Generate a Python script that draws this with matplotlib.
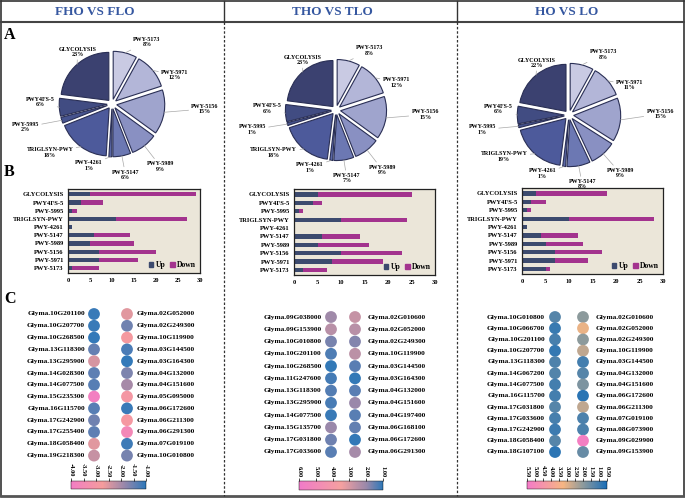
import matplotlib
matplotlib.use('Agg')
import matplotlib.pyplot as plt
import numpy as np
from matplotlib.colors import LinearSegmentedColormap, Normalize
from matplotlib.lines import Line2D
from matplotlib.patches import Patch
import matplotlib.cm as cm

plt.rcParams['font.family'] = ['Liberation Serif', 'DejaVu Serif']
plt.rcParams['font.weight'] = 'bold'

# ---------------- data ----------------
titles = ["FHO VS FLO", "THO VS TLO", "HO VS LO"]

pie_labels = ["PWY-5173", "PWY-5971", "PWY-5156", "PWY-5989", "PWY-5147",
              "PWY-4261", "TRIGLSYN-PWY", "PWY-5995", "PWY4FS-5", "GLYCOLYSIS"]
pie_fho = [8, 12, 15, 9, 6, 1, 18, 2, 6, 23]
pie_tho = [8, 12, 15, 9, 7, 1, 18, 1, 6, 23]
pie_ho = [8, 11, 15, 9, 8, 1, 19, 1, 6, 22]

bar_categories = ["GLYCOLYSIS", "PWY4FS-5", "PWY-5995", "TRIGLSYN-PWY", "PWY-4261",
                  "PWY-5147", "PWY-5989", "PWY-5156", "PWY-5971", "PWY-5173"]
up_fho = [5, 3, 1, 11, 1, 6, 5, 7, 7, 1]
down_fho = [24, 5, 1, 16, 0, 8, 10, 13, 9, 6]
up_tho = [5, 4, 1, 10, 0, 6, 5, 10, 8, 2]
down_tho = [20, 2, 1, 14, 0, 8, 11, 13, 11, 5]
up_ho = [3, 2, 1, 10, 1, 4, 5, 7, 7, 5]
down_ho = [15, 3, 1, 18, 0, 8, 8, 10, 7, 1]
bar_ticks = [0, 5, 10, 15, 20, 25, 30]

fho_genes_left = ["Glyma.10G201100", "Glyma.10G207700", "Glyma.10G268500", "Glyma.13G118300",
                  "Glyma.13G295900", "Glyma.14G028300", "Glyma.14G077500", "Glyma.15G235300",
                  "Glyma.16G115700", "Glyma.17G242900", "Glyma.17G255400", "Glyma.18G058400",
                  "Glyma.19G218300"]
fho_vals_left = [-1.1, -1.1, -1.05, -1.45, -2.45, -1.4, -1.35, -3.9, -1.35, -1.55, -1.4, -2.55, -2.3]
fho_genes_right = ["Glyma.02G052000", "Glyma.02G249300", "Glyma.10G119900", "Glyma.03G144500",
                   "Glyma.03G164300", "Glyma.04G132000", "Glyma.04G151600", "Glyma.05G095000",
                   "Glyma.06G172600", "Glyma.06G211300", "Glyma.06G291300", "Glyma.07G019100",
                   "Glyma.10G010800"]
fho_vals_right = [-2.55, -1.55, -2.85, -1.25, -1.05, -1.65, -2.0, -2.95, -1.1, -2.9, -3.6, -1.15, -1.6]

tho_genes_left = ["Glyma.09G038000", "Glyma.09G153900", "Glyma.10G010800", "Glyma.10G201100",
                  "Glyma.10G268500", "Glyma.11G247600", "Glyma.13G118300", "Glyma.13G295900",
                  "Glyma.14G077500", "Glyma.15G135700", "Glyma.17G031800", "Glyma.17G033600"]
tho_vals_left = [2.1, 2.5, 1.7, 1.3, 1.05, 1.2, 1.35, 1.25, 1.1, 2.0, 1.6, 1.4]
tho_genes_right = ["Glyma.02G010600", "Glyma.02G052000", "Glyma.02G249300", "Glyma.10G119900",
                   "Glyma.03G144500", "Glyma.03G164300", "Glyma.04G132000", "Glyma.04G151600",
                   "Glyma.04G197400", "Glyma.06G168100", "Glyma.06G172600", "Glyma.06G291300"]
tho_vals_right = [2.7, 2.5, 1.8, 2.55, 1.4, 1.05, 1.4, 2.0, 1.4, 1.5, 1.05, 2.2]

ho_genes_left = ["Glyma.10G010800", "Glyma.10G066700", "Glyma.10G201100", "Glyma.10G207700",
                 "Glyma.13G118300", "Glyma.14G067200", "Glyma.14G077500", "Glyma.16G115700",
                 "Glyma.17G031800", "Glyma.17G033600", "Glyma.17G242900", "Glyma.18G058400",
                 "Glyma.18G107100"]
ho_vals_left = [1.3, 0.9, 1.1, 0.85, 1.2, 1.25, 1.05, 1.05, 1.3, 1.1, 0.95, 1.3, 0.75]
ho_genes_right = ["Glyma.02G010600", "Glyma.02G052000", "Glyma.02G249300", "Glyma.10G119900",
                  "Glyma.03G144500", "Glyma.04G132000", "Glyma.04G151600", "Glyma.06G172600",
                  "Glyma.06G211300", "Glyma.07G019100", "Glyma.08G073900", "Glyma.09G029900",
                  "Glyma.09G153900"]
ho_vals_right = [2.0, 3.1, 2.0, 2.6, 1.05, 1.3, 1.8, 0.7, 2.6, 1.15, 1.15, 5.3, 1.5]

cb_ticks_fho = [-4.0, -3.5, -3.0, -2.5, -2.0, -1.5, -1.0]
cb_ticks_tho = [6.0, 5.0, 4.0, 3.0, 2.0, 1.0]
cb_ticks_ho = [5.5, 5.0, 4.5, 4.0, 3.5, 3.0, 2.5, 2.0, 1.5, 1.0, 0.5]

# ---------------- styles ----------------
W, H = 685, 499
pie_colors = ['#c9cae3', '#b3b6d8', '#9fa4cd', '#8990c2', '#6c78b3',
              '#5a67a6', '#4d5a9b', '#46538e', '#414c82', '#3b4170']
up_color = '#3c4a6e'
down_color = '#a3338e'
title_color = '#3557a0'

cmap_fho = LinearSegmentedColormap.from_list('c1', [(0, '#f27ec4'), (0.42, '#f59c9c'),
                                                    (0.7, '#9c88aa'), (1, '#2d78ba')])
cmap_tho = LinearSegmentedColormap.from_list('c2', [(0, '#2f78b8'), (0.2, '#9a88aa'),
                                                    (0.5, '#f5a0a0'), (1, '#f07ac8')])
cmap_ho = LinearSegmentedColormap.from_list('c3', [(0, '#1a6eb8'), (0.3, '#8d9a9c'),
                                                   (0.55, '#f6b683'), (1, '#f47ac8')])

label_nudge = [-15, -15, 6, 0, 0, -19, -16, -3, -5, -8]
label_dist = [1.48, 1.44, 1.94, 1.65, 1.5, 1.37, 1.64, 1.87, 1.5, 1.3]

fig = plt.figure(figsize=(W / 100, H / 100), dpi=100)


def px_axes(x0, y0, x1, y1):
    return fig.add_axes([x0 / W, 1 - y1 / H, (x1 - x0) / W, (y1 - y0) / H])


def fig_line(x0, y0, x1, y1, **kw):
    fig.add_artist(Line2D([x0 / W, x1 / W], [1 - y0 / H, 1 - y1 / H],
                          transform=fig.transFigure, **kw))


def fig_text(x, y, s, **kw):
    fig.text(x / W, 1 - y / H, s, **kw)


# frame and header
fig_line(1, 1, 684, 1, color='#333333', lw=1.2)
fig_line(1, 1, 1, 496, color='#333333', lw=1.2)
fig_line(684, 1, 684, 496, color='#333333', lw=1.2)
fig_line(1, 496, 684, 496, color='#555555', lw=2.0)
fig_line(1, 22, 684, 22, color='#444444', lw=1.5)
for xd in (224, 457):
    fig_line(xd, 1, xd, 22, color='#333333', lw=1.0)
    fig_line(xd, 22, xd, 496, color='#333333', lw=0.9, ls=(0, (2, 1.5)))

title_x = [95, 332, 567]
for t, xx in zip(titles, title_x):
    fig_text(xx, 12, t, ha='center', va='center', fontsize=9.5, color=title_color,
             fontweight='bold')

for lab, yy in zip(["A", "B", "C"], [35, 172, 299]):
    fig_text(4, yy, lab, ha='left', va='center', fontsize=11.5, fontweight='bold')

# ---------------- pies ----------------
pie_data = [pie_fho, pie_tho, pie_ho]
pie_centers = [(112, 104, 48), (336, 110, 46), (569, 115, 47)]
L = 2.1
for vals, (cx, cy, sc) in zip(pie_data, pie_centers):
    half = L * sc
    ax = px_axes(cx - half, cy - half, cx + half, cy + half)
    wedges, _ = ax.pie(vals, explode=[0.1] * len(vals), startangle=90, counterclock=False,
                       colors=pie_colors,
                       wedgeprops=dict(edgecolor='#2a2f55', linewidth=0.8))
    ax.set_xlim(-L, L)
    ax.set_ylim(-L, L)
    ax.set_aspect('equal')
    ax.axis('off')
    for w, lab, v, nd, dd in zip(wedges, pie_labels, vals, label_nudge, label_dist):
        mid = np.deg2rad((w.theta1 + w.theta2) / 2)
        tang = mid + np.deg2rad(nd)
        ex, ey = 1.1 * np.cos(mid), 1.1 * np.sin(mid)
        tx, ty = dd * np.cos(tang), dd * np.sin(tang)
        ax.annotate(f"{lab}\n{v}%", xy=(ex, ey), xytext=(tx, ty), ha='center', va='center',
                    fontsize=4.3, fontweight='bold', linespacing=1.1,
                    arrowprops=dict(arrowstyle='-', color='#a8a8a8', lw=0.5,
                                    shrinkA=0, shrinkB=0),
                    annotation_clip=False)

# ---------------- bars ----------------
bar_data = [(up_fho, down_fho), (up_tho, down_tho), (up_ho, down_ho)]
bar_boxes = [(68, 189, 200, 273), (294, 189, 435, 275), (522, 188, 663, 274)]
for (up, down), box in zip(bar_data, bar_boxes):
    ax = px_axes(*box)
    y = np.arange(len(bar_categories))
    ax.barh(y, up, height=0.5, color=up_color, label='Up')
    ax.barh(y, down, left=up, height=0.5, color=down_color, label='Down')
    ax.set_ylim(len(bar_categories) - 0.4, -0.65)
    ax.set_xlim(0, 30)
    ax.set_facecolor('#ebe6d9')
    ax.set_yticks(y)
    ax.set_yticklabels(bar_categories, fontsize=4.7, fontweight='bold')
    ax.set_xticks(bar_ticks)
    ax.set_xticklabels([str(t) for t in bar_ticks], fontsize=4.7, fontweight='bold')
    ax.tick_params(length=0, pad=3.5)
    ax.tick_params(axis='y', pad=3)
    for s in ax.spines.values():
        s.set_linewidth(0.9)
        s.set_color('#222222')
    handles = [Patch(color=up_color), Patch(color=down_color)]
    ax.legend(handles, ['Up', 'Down'], loc='lower right', ncol=2, frameon=False,
              handlelength=0.6, handleheight=0.6, handletextpad=0.3,
              columnspacing=0.6, borderaxespad=0.15, prop=dict(weight='bold', size=5.5))

# ---------------- dots ----------------
dot_sets = [
    (fho_genes_left, fho_vals_left, fho_genes_right, fho_vals_right, cmap_fho, -4.0, -1.0,
     cb_ticks_fho),
    (tho_genes_left, tho_vals_left, tho_genes_right, tho_vals_right, cmap_tho, 1.0, 6.0,
     cb_ticks_tho),
    (ho_genes_left, ho_vals_left, ho_genes_right, ho_vals_right, cmap_ho, 0.5, 5.5,
     cb_ticks_ho),
]
dot_layout = [(94, 127, 314, 11.8, 6.5, 7.2), (331, 355, 317, 12.27, 6.8, 9.2),
              (555, 583, 317, 11.25, 7.2, 9.4)]
cb_boxes = [(71, 481, 146, 489), (299, 481, 383, 490), (527, 481, 607, 489)]
inverted = [False, True, True]

for (gl, vl, gr, vr, cmap, vmin, vmax, cticks), (xl, xr, y0, sp, offl, offr), cbb, inv in zip(
        dot_sets, dot_layout, cb_boxes, inverted):
    n = max(len(gl), len(gr))
    dx = xr - xl
    ax = px_axes(xl - dx, y0 - 0.5 * sp, xr + dx, y0 + (n - 0.5) * sp)
    ax.set_xlim(-1, 2)
    ax.set_ylim(n - 0.5, -0.5)
    ax.axis('off')
    norm = Normalize(vmin=vmin, vmax=vmax)
    ax.scatter(np.zeros(len(gl)), np.arange(len(gl)), c=vl, cmap=cmap, norm=norm,
               s=72, linewidths=0, clip_on=False)
    ax.scatter(np.ones(len(gr)), np.arange(len(gr)), c=vr, cmap=cmap, norm=norm,
               s=72, linewidths=0, clip_on=False)
    for i, g in enumerate(gl):
        ax.annotate(g, (0, i), xytext=(-offl, 0), textcoords='offset points', ha='right',
                    va='center', fontsize=5.3, fontweight='bold')
    for i, g in enumerate(gr):
        ax.annotate(g, (1, i), xytext=(offr, 0), textcoords='offset points', ha='left',
                    va='center', fontsize=5.3, fontweight='bold')

    cax = px_axes(*cbb)
    sm = cm.ScalarMappable(norm=norm, cmap=cmap)
    cb = fig.colorbar(sm, cax=cax, orientation='horizontal')
    cb.outline.set_linewidth(0.3)
    cax.xaxis.set_ticks_position('top')
    cax.set_xticks(cticks)
    cax.set_xticklabels([f"{t:.2f}" for t in cticks], rotation=-90, fontsize=4.6,
                        fontweight='bold')
    cax.tick_params(axis='x', length=2, width=0.5, pad=1)
    if inv:
        cax.invert_xaxis()

fig.savefig('out.png', dpi=100, facecolor='white')
